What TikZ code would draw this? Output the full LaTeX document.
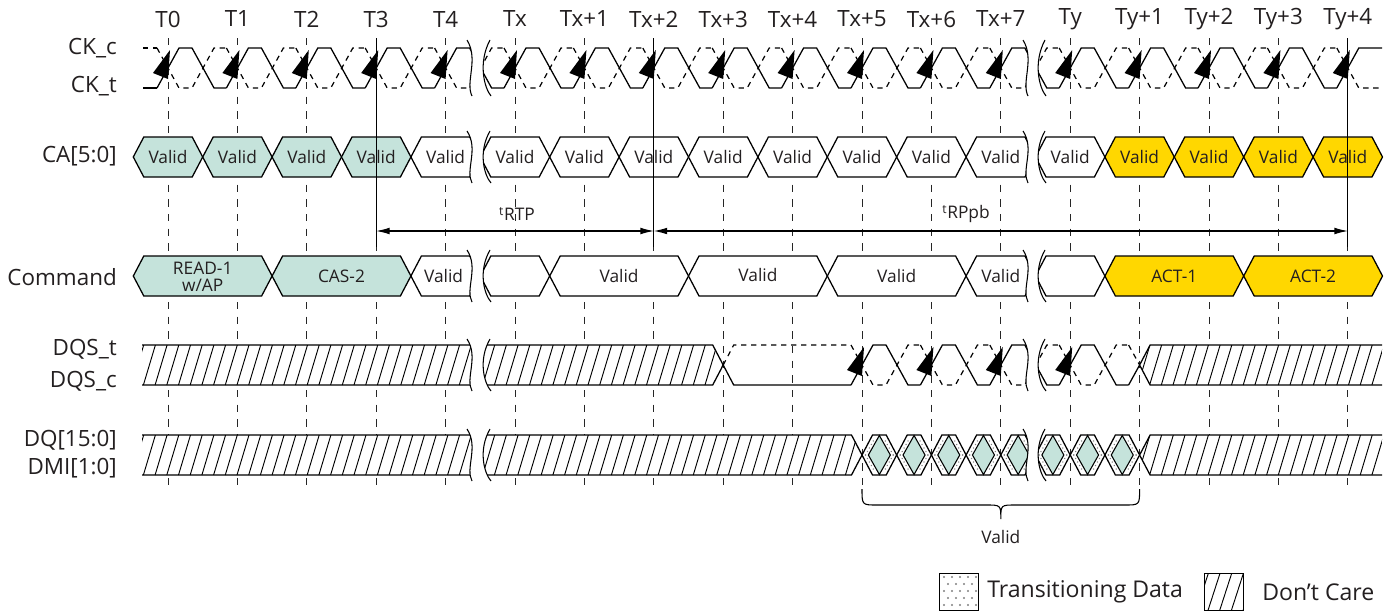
\documentclass[tikz,border=0pt]{standalone}
\usepackage{fontspec}
\setmainfont{Open Sans}
\usetikzlibrary{arrows.meta}
\definecolor{cteal}{HTML}{C5E3DB}
\definecolor{cyel}{HTML}{FFD700}
\definecolor{ctxt}{HTML}{231F20}
\newcommand\tpos[1]{(168+69.4*(#1))}
\newcommand\hexcell[5]{%
 \filldraw[sig,fill=#5] ({#1},{(#3+#4)/2}) -- ({#1+10.5},#3) -- ({#2-10.5},#3) -- ({#2},{(#3+#4)/2}) -- ({#2-10.5},#4) -- ({#1+10.5},#4) -- cycle;}
\newcommand\hatchin[3]{%
 \begin{scope}\clip #1;
 \foreach \h in {120,131.7,...,1400} \draw[hatchl] (\h,#3) -- (\h+12,#2);
 \end{scope}}
\newcommand\brkpair[4]{%
 \fill[white] ({#1-2},#3) .. controls ({#1+10},{#3+0.35*(#4-#3)}) and ({#1-4},{#3+0.75*(#4-#3)}) .. ({#1+3},#4)
   -- ({#2+3},#4) .. controls ({#2-4},{#3+0.85*(#4-#3)}) and ({#2-10},{#3+0.4*(#4-#3)}) .. ({#2+2},#3) -- cycle;
 \draw[brkl] ({#1-2},#3) .. controls ({#1+10},{#3+0.35*(#4-#3)}) and ({#1-4},{#3+0.75*(#4-#3)}) .. ({#1+3},#4);
 \draw[brkl] ({#2+2},#3) .. controls ({#2-10},{#3+0.4*(#4-#3)}) and ({#2-4},{#3+0.85*(#4-#3)}) .. ({#2+3},#4);}
\begin{document}
\begin{tikzpicture}[x=0.75pt,y=-0.75pt,
  sig/.style={line width=0.95pt,black,line join=miter},
  dsig/.style={line width=0.9pt,black,dash pattern=on 4pt off 3.5pt},
  vdash/.style={line width=0.7pt,black!85,dash pattern=on 5.5pt off 5.5pt},
  hatchl/.style={line width=0.7pt,black},
  brkl/.style={line width=0.8pt,black},
  tdots/.style={gray,line width=1.2pt,dash pattern=on 0.01pt off 3pt,line cap=round},
  lbl/.style={font=\fontsize{16.8}{19}\selectfont,text=ctxt,inner sep=0pt},
  cell/.style={font=\fontsize{13}{15}\selectfont,text=ctxt,inner sep=0pt,align=center},
  arr/.style={line width=0.8pt,black,{Latex[length=10pt,width=5pt]}-{Latex[length=10pt,width=5pt]}}]
\useasboundingbox (0,0) rectangle (1395,614);
\fill[white] (0,0) rectangle (1395,614);
% dashed verticals
\foreach \k in {0,...,17}{
  \coordinate (vt\k) at ({\tpos{\k}},38);
  \coordinate (vb\k) at ({\tpos{\k}},490);
  \draw[vdash] (vt\k) -- (vb\k);
}
% top labels
\foreach \k/\t in {0/T0,1/T1,2/T2,3/T3,4/T4,5/Tx,6/Tx+1,7/Tx+2,8/Tx+3,9/Tx+4,10/Tx+5,11/Tx+6,12/Tx+7,13/Ty,14/Ty+1,15/Ty+2,16/Ty+3,17/Ty+4}
  \node[lbl] (top\k) at ({\tpos{\k}},19) {\t};
% left labels
\node[lbl,anchor=east] (lckc) at (117,48) {CK\_c};
\node[lbl,anchor=east] (lckt) at (117,86) {CK\_t};
\node[lbl,anchor=east] (lca) at (117,156) {CA[5:0]};
\node[lbl,anchor=east] (lcmd) at (117,277) {Command};
\node[lbl,anchor=east] (ldqst) at (117,349) {DQS\_t};
\node[lbl,anchor=east] (ldqsc) at (117,381) {DQS\_c};
\node[lbl,anchor=east] (ldq) at (117,440) {DQ[15:0]};
\node[lbl,anchor=east] (ldmi) at (117,468) {DMI[1:0]};
% clock
\foreach \k in {0,...,16}{
  \draw[sig] ({\tpos{\k}-11},88) -- ({\tpos{\k}+11},48) -- ({\tpos{\k}+24},48) -- ({\tpos{\k}+46},88) -- ({\tpos{\k}+58.4},88);
  \draw[dsig] ({\tpos{\k}-11},48) -- ({\tpos{\k}+11},88) -- ({\tpos{\k}+24},88) -- ({\tpos{\k}+46},48) -- ({\tpos{\k}+58.4},48);
}
\draw[sig] (143,88) -- ({\tpos{0}-11},88);
\draw[dsig] (143,48) -- ({\tpos{0}-11},48);
\draw[sig] ({\tpos{17}-11},88) -- ({\tpos{17}+11},48) -- (1382,48);
\draw[dsig] ({\tpos{17}-11},48) -- ({\tpos{17}+11},88) -- (1382,88);
\foreach \k in {0,...,17}
  \fill[black] ({\tpos{\k}+2},50) -- ({\tpos{\k}-15},73) -- ({\tpos{\k}},79) -- cycle;
% CA row
\foreach \k in {0,...,3} \hexcell{\tpos{\k}-34.7}{\tpos{\k}+34.7}{137}{177}{cteal};
\foreach \k in {4,...,13} \hexcell{\tpos{\k}-34.7}{\tpos{\k}+34.7}{137}{177}{white};
\foreach \k in {14,...,17} \hexcell{\tpos{\k}-34.7}{\tpos{\k}+34.7}{137}{177}{cyel};
\foreach \k in {0,...,17} \node[cell] (ca\k) at ({\tpos{\k}},157) {Valid};
% Command row
\hexcell{\tpos{0}-34.7}{\tpos{1}+34.7}{256}{296}{cteal}
\hexcell{\tpos{1}+34.7}{\tpos{3}+34.7}{256}{296}{cteal}
\hexcell{\tpos{3}+34.7}{\tpos{4}+34.7}{256}{296}{white}
\hexcell{\tpos{4}+34.7}{\tpos{5}+34.7}{256}{296}{white}
\hexcell{\tpos{5}+34.7}{\tpos{7}+34.7}{256}{296}{white}
\hexcell{\tpos{7}+34.7}{\tpos{9}+34.7}{256}{296}{white}
\hexcell{\tpos{9}+34.7}{\tpos{11}+34.7}{256}{296}{white}
\hexcell{\tpos{11}+34.7}{\tpos{12}+34.7}{256}{296}{white}
\hexcell{\tpos{12}+34.7}{\tpos{13}+34.7}{256}{296}{white}
\hexcell{\tpos{13}+34.7}{\tpos{15}+34.7}{256}{296}{cyel}
\hexcell{\tpos{15}+34.7}{\tpos{17}+34.7}{256}{296}{cyel}
\node[cell] (c1) at ({\tpos{0.5}},277) {READ-1\\[-2pt]w/AP};
\node[cell] (c2) at ({\tpos{2.5}},276) {CAS-2};
\node[cell] (c3) at ({\tpos{4}-2},276) {Valid};
\node[cell] (c4) at ({\tpos{6.5}},276) {Valid};
\node[cell] (c5) at ({\tpos{8.5}},275) {Valid};
\node[cell] (c6) at ({\tpos{10.5}},276) {Valid};
\node[cell] (c7) at ({\tpos{12}},276) {Valid};
\node[cell] (c8) at ({\tpos{14.5}},276) {ACT-1};
\node[cell] (c9) at ({\tpos{16.5}},276) {ACT-2};
% solid verticals
\foreach \k in {3,7,17}{
  \coordinate (st\k) at ({\tpos{\k}},38);
  \coordinate (sb\k) at ({\tpos{\k}},247);
  \draw[sig] (st\k) -- (sb\k);
  \coordinate (a\k) at ({\tpos{\k}},231);
}
\draw[arr] (a3) -- (a7);
\draw[arr] (a7) -- (a17);
\node[cell] (trtp) at (517,214) {\textsuperscript{t}RTP};
\node[cell] (trp) at (966,214) {\textsuperscript{t}RPpb};
% DQS row
\fill[white] (142,345) -- ({\tpos{8}-10.5},345) -- ({\tpos{8}},365) -- ({\tpos{8}-10.5},385) -- (142,385) -- cycle;
\hatchin{(142,345) -- ({\tpos{8}-10.5},345) -- ({\tpos{8}},365) -- ({\tpos{8}-10.5},385) -- (142,385) -- cycle}{345}{385}
\draw[sig] (142,345) -- ({\tpos{8}-10.5},345) -- ({\tpos{8}},365) -- ({\tpos{8}-10.5},385) -- (142,385);
\draw[sig] ({\tpos{8}},365) -- ({\tpos{8}+10.5},385) -- ({\tpos{10}-11},385);
\draw[dsig] ({\tpos{8}},365) -- ({\tpos{8}+10.5},345) -- ({\tpos{10}-11},345);
\foreach \k in {10,...,13}{
  \draw[sig] ({\tpos{\k}-11},385) -- ({\tpos{\k}+11},345) -- ({\tpos{\k}+24},345) -- ({\tpos{\k}+46},385) -- ({\tpos{\k}+58.4},385);
  \draw[dsig] ({\tpos{\k}-11},345) -- ({\tpos{\k}+11},385) -- ({\tpos{\k}+24},385) -- ({\tpos{\k}+46},345) -- ({\tpos{\k}+58.4},345);
  \fill[black] ({\tpos{\k}+2},347) -- ({\tpos{\k}-15},370) -- ({\tpos{\k}},376) -- cycle;
}
\draw[sig] ({\tpos{14}-11},385) -- ({\tpos{14}},365);
\draw[dsig] ({\tpos{14}-11},345) -- ({\tpos{14}},365);
\fill[white] ({\tpos{14}},365) -- ({\tpos{14}+10.5},345) -- (1382,345) -- (1382,385) -- ({\tpos{14}+10.5},385) -- cycle;
\hatchin{({\tpos{14}},365) -- ({\tpos{14}+10.5},345) -- (1382,345) -- (1382,385) -- ({\tpos{14}+10.5},385) -- cycle}{345}{385}
\draw[sig] (1382,345) -- ({\tpos{14}+10.5},345) -- ({\tpos{14}},365) -- ({\tpos{14}+10.5},385) -- (1382,385);
% DQ row
\fill[white] (142,435) -- ({\tpos{10}-10.5},435) -- ({\tpos{10}},455) -- ({\tpos{10}-10.5},475) -- (142,475) -- cycle;
\hatchin{(142,435) -- ({\tpos{10}-10.5},435) -- ({\tpos{10}},455) -- ({\tpos{10}-10.5},475) -- (142,475) -- cycle}{435}{475}
\draw[sig] (142,435) -- ({\tpos{10}-10.5},435) -- ({\tpos{10}},455) -- ({\tpos{10}-10.5},475) -- (142,475);
\foreach \j in {0,...,7}{
  \pgfmathsetmacro\c{168+69.4*10+34.7*\j}
  \pgfmathsetmacro\m{\c+17.35}
  \filldraw[sig,fill=white] (\c,455) -- (\c+10.5,435) -- (\c+24.2,435) -- (\c+34.7,455) -- (\c+24.2,475) -- (\c+10.5,475) -- cycle;
  \filldraw[line width=0.8pt,fill=cteal] (\m,435.5) -- (\m+11,455) -- (\m,474.5) -- (\m-11,455) -- cycle;
  \draw[tdots] (\c+3.5,455) -- (\c+13,438);
  \draw[tdots] (\c+3.5,455) -- (\c+13,472);
  \draw[tdots] (\c+31.2,455) -- (\c+21.7,438);
  \draw[tdots] (\c+31.2,455) -- (\c+21.7,472);
}
\fill[white] ({\tpos{14}},455) -- ({\tpos{14}+10.5},435) -- (1382,435) -- (1382,475) -- ({\tpos{14}+10.5},475) -- cycle;
\hatchin{({\tpos{14}},455) -- ({\tpos{14}+10.5},435) -- (1382,435) -- (1382,475) -- ({\tpos{14}+10.5},475) -- cycle}{435}{475}
\draw[sig] (1382,435) -- ({\tpos{14}+10.5},435) -- ({\tpos{14}},455) -- ({\tpos{14}+10.5},475) -- (1382,475);
% breaks
\foreach \xl/\xr in {469/488,1025/1043}{
  \brkpair{\xl}{\xr}{40}{96}
  \brkpair{\xl}{\xr}{131}{183}
  \brkpair{\xl}{\xr}{250}{302}
  \brkpair{\xl}{\xr}{339}{391}
  \brkpair{\xl}{\xr}{429}{481}
}
% brace
\coordinate (bl) at ({\tpos{10}},489);
\coordinate (br) at ({\tpos{14}},489);
\draw[line width=0.8pt] (bl) .. controls ({\tpos{10}},505) and ({\tpos{10}},505) .. ({\tpos{10}+15},505)
  -- (986,505) .. controls (1000.8,505) and (1000.8,505) .. (1000.8,519)
  .. controls (1000.8,505) and (1000.8,505) .. (1015.6,505)
  -- ({\tpos{14}-15},505) .. controls ({\tpos{14}},505) and ({\tpos{14}},505) .. (br);
\node[cell] (bval) at (1000.8,537) {Valid};
% legend
\node[draw,line width=0.7pt,minimum width=29.25pt,minimum height=27.75pt,inner sep=0pt] (lg1) at (958.5,591.5) {};
\foreach \r in {0,...,4}{
  \foreach \cc in {0,...,4}{
    \pgfmathsetmacro\dx{944+8*\cc+4*mod(\r,2)}
    \ifdim\dx pt<977pt \fill[gray] (\dx,577+7*\r) circle (0.8pt);\fi
  }
}
\node[lbl,anchor=west,font=\fontsize{17.3}{19}\selectfont] (lt1) at (987,592) {Transitioning Data};
\node[draw,line width=0.7pt,minimum width=29.25pt,minimum height=27.75pt,inner sep=0pt] (lg2) at (1223.5,591.5) {};
\hatchin{(1204,573) rectangle (1243,610)}{573}{610}
\node[draw,line width=0.7pt,minimum width=29.25pt,minimum height=27.75pt,inner sep=0pt] at (lg2) {};
\node[lbl,anchor=west,font=\fontsize{17.3}{19}\selectfont] (lt2) at (1262,592) {Don’t Care};
\end{tikzpicture}
\end{document}
